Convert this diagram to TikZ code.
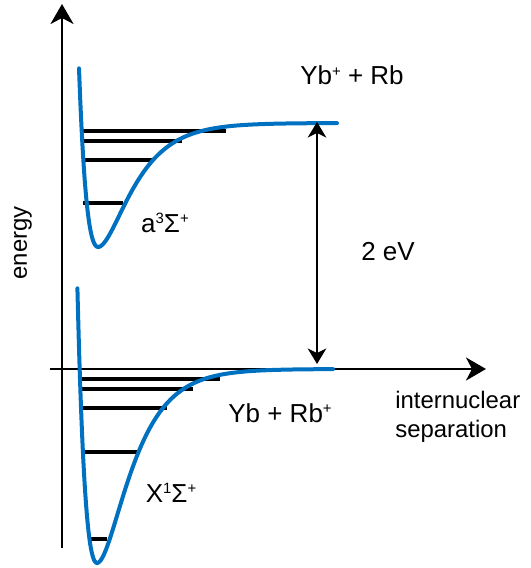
\documentclass[tikz,border=0pt]{standalone}
\usepackage{fontspec}
\setmainfont{Liberation Sans}
\usetikzlibrary{arrows.meta}
\definecolor{potblue}{RGB}{0,112,192}
\newcommand{\supr}[1]{\raisebox{0.62ex}{\fontsize{8.5}{9}\selectfont #1}}
\tikzset{
    axis/.style={-{Stealth[length=4mm,width=4.6mm,inset=1.2mm]}, line width=0.45mm},
    pot/.style={potblue, line width=0.8mm, line cap=round},
    lvl/.style={line width=0.7mm},
    gap/.style={{Stealth[length=3.1mm,width=3.7mm,inset=0.9mm]}-{Stealth[length=3.1mm,width=3.7mm,inset=0.9mm]},
                line width=0.4mm},
    lbl/.style={font=\fontsize{14.8}{17}\selectfont, inner sep=0pt, anchor=base},
    axlbl/.style={font=\fontsize{13.6}{16.4}\selectfont, inner sep=0pt, align=left},
    declare function={
        eup(\x)  = exp(-((\x<98) ? 0.0415 : 0.033)*(\x-98));
        vup(\x)  = 123 + 124*eup(\x)*(2-eup(\x));
        elow(\x) = exp(-((\x<97) ? 0.04 : 0.034)*(\x-97));
        vlow(\x) = 369 + 194*elow(\x)*(2-elow(\x));
    },
}

\begin{document}
\begin{tikzpicture}[x=0.2mm, y=-0.2mm]
    \useasboundingbox (0,0) rectangle (531,568);

    % axes
    \coordinate (ybot) at (62,548);
    \coordinate (ytop) at (62,4);
    \coordinate (xleft) at (50,369);
    \coordinate (xright) at (486,369);
    \draw[axis] (ybot) -- (ytop);
    \draw[axis] (xleft) -- (xright);

    % vibrational levels
    \foreach \yy/\xa/\xb in {131/80/226, 141/83/182, 160/85/153, 203/83/123}
        \draw[lvl] (\xa,\yy) -- (\xb,\yy);
    \foreach \yy/\xa/\xb in {379/81/220, 389/81/193, 408/82/167, 452/84/137, 539/90/107}
        \draw[lvl] (\xa,\yy) -- (\xb,\yy);

    % potential curves
    \draw[pot] plot[domain=79:337, samples=180, smooth] (\x, {vup(\x)});
    \draw[pot] plot[domain=77.4:333, samples=180, smooth] (\x, {vlow(\x)});

    % 2 eV gap
    \coordinate (upasym) at (317,122);
    \coordinate (lowasym) at (317,364);
    \draw[gap] (lowasym) -- (upasym);

    \node[lbl] (ionup)  at (352,85)  {Yb\supr{+} + Rb};
    \node[lbl] (gapval) at (388,260) {2 eV};
    \node[lbl] (trip)   at (165,232) {a\supr{3}Σ\supr{+}};
    \node[lbl] (ionlow) at (280,422) {Yb + Rb\supr{+}};
    \node[lbl] (sing)   at (171,502) {X\supr{1}Σ\supr{+}};
    \node[axlbl, rotate=90] (elbl) at (23,243) {energy};
    \node[axlbl, anchor=north west] (rlbl) at (395,391) {internuclear\\separation};
\end{tikzpicture}
\end{document}
